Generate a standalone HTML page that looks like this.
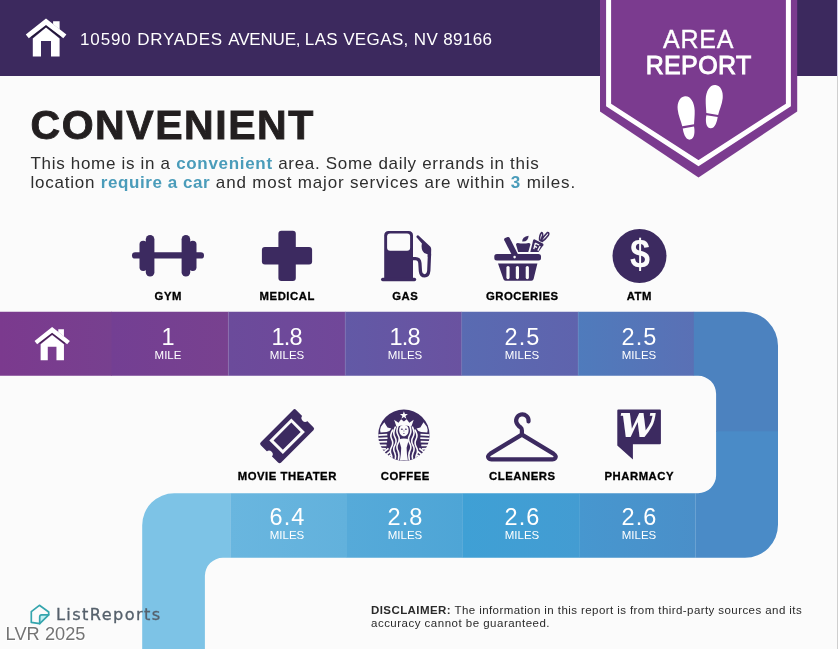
<!DOCTYPE html>
<html lang="en">
<head>
<meta charset="utf-8">
<title>Area Report</title>
<style>
html,body{margin:0;padding:0;}
body{width:838px;height:649px;position:relative;overflow:hidden;background:#fbfbfb;font-family:"Liberation Sans",sans-serif;color:#333;}
.abs{position:absolute;}
.t{position:absolute;white-space:nowrap;line-height:1;}
#bg{position:absolute;left:0;top:0;}
.addr{left:80px;top:30.7px;font-size:17px;color:#fff;letter-spacing:0.39px;}
.title{left:30.5px;top:105.2px;font-size:41px;font-weight:bold;color:#231f20;letter-spacing:1.55px;-webkit-text-stroke:0.9px #231f20;}
.para{left:30.5px;font-size:17px;color:#2e2e2e;}
.para b{color:#4a9cba;}
.lbl{font-size:11.3px;font-weight:bold;color:#000;transform:translateX(-50%);letter-spacing:0.55px;text-indent:0.55px;-webkit-text-stroke:0.3px #000;}
.num{font-size:23.5px;color:#fff;transform:translateX(-50%);letter-spacing:1.1px;text-indent:1.1px;}
.n1{letter-spacing:-0.8px;text-indent:-0.8px;}
.unit{font-size:11.5px;color:#fff;transform:translateX(-50%);letter-spacing:0;}
.rib{color:#fff;font-size:25px;transform:translateX(-50%);}
.disc{left:371px;font-size:11.5px;color:#2a2a2a;}
</style>
</head>
<body>
<svg id="bg" width="838" height="649" viewBox="0 0 838 649">
<defs>
<clipPath id="snake"><path d="M0,311.700 H744 A34,34 0 0 1 778,345.700 V524.800 A33,33 0 0 1 745,557.800 H222.900 A18,18 0 0 0 204.900,575.800 V649 H142.200 V525.200 A32,32 0 0 1 174.200,493.200 H698.100 A18,18 0 0 0 716.100,475.200 V393.800 A18,18 0 0 0 698.100,375.800 H0 Z"/></clipPath>
<linearGradient id="g0" x1="0" x2="1"><stop offset="0" stop-color="#7b3a8e"/><stop offset="1" stop-color="#77408f"/></linearGradient>
<linearGradient id="g1" x1="0" x2="1"><stop offset="0" stop-color="#733f93"/><stop offset="1" stop-color="#78418f"/></linearGradient>
<linearGradient id="g2" x1="0" x2="1"><stop offset="0" stop-color="#6b4b9b"/><stop offset="1" stop-color="#714799"/></linearGradient>
<linearGradient id="g3" x1="0" x2="1"><stop offset="0" stop-color="#6259a6"/><stop offset="1" stop-color="#6a52a0"/></linearGradient>
<linearGradient id="g4" x1="0" x2="1"><stop offset="0" stop-color="#596bb2"/><stop offset="1" stop-color="#5f63ad"/></linearGradient>
<linearGradient id="g5" x1="0" x2="1"><stop offset="0" stop-color="#4f7bbc"/><stop offset="1" stop-color="#5a70b5"/></linearGradient>
<linearGradient id="h1" x1="0" x2="1"><stop offset="0" stop-color="#69b6df"/><stop offset="1" stop-color="#62b1dc"/></linearGradient>
<linearGradient id="h2" x1="0" x2="1"><stop offset="0" stop-color="#56aad9"/><stop offset="1" stop-color="#4ea5d6"/></linearGradient>
<linearGradient id="h3" x1="0" x2="1"><stop offset="0" stop-color="#3fa0d5"/><stop offset="1" stop-color="#439cd2"/></linearGradient>
<linearGradient id="h4" x1="0" x2="1"><stop offset="0" stop-color="#4797cf"/><stop offset="1" stop-color="#4a8fc9"/></linearGradient>
</defs>
<!-- header -->
<rect x="0" y="0" width="838" height="76" fill="#3c295e"/>
<!-- snake path -->
<g clip-path="url(#snake)">
<rect x="0" y="311" width="112" height="66" fill="url(#g0)"/>
<rect x="111.500" y="311" width="117" height="66" fill="url(#g1)"/>
<rect x="228.300" y="311" width="117.200" height="66" fill="url(#g2)"/>
<rect x="345.200" y="311" width="116.700" height="66" fill="url(#g3)"/>
<rect x="461.600" y="311" width="116.800" height="66" fill="url(#g4)"/>
<rect x="578.100" y="311" width="116" height="66" fill="url(#g5)"/>
<rect x="693.800" y="311" width="90" height="121" fill="#4c82bf"/>
<rect x="695.600" y="431.300" width="90" height="130" fill="#4a8bc7"/>
<rect x="579.700" y="492" width="116" height="67" fill="url(#h4)"/>
<rect x="462.700" y="492" width="117.200" height="67" fill="url(#h3)"/>
<rect x="346.800" y="492" width="116.100" height="67" fill="url(#h2)"/>
<rect x="230.200" y="492" width="116.800" height="67" fill="url(#h1)"/>
<rect x="140" y="492" width="90.200" height="160" fill="#7dc3e6"/>
<g fill="#fff" fill-opacity="0.090">
<rect x="227.800" y="311" width="1" height="66"/><rect x="344.700" y="311" width="1" height="66"/><rect x="461.100" y="311" width="1" height="66"/><rect x="577.600" y="311" width="1" height="66"/>
</g>
</g>
<!-- ribbon -->
<g id="ribbon">
<path d="M600,0 H797.200 V111.500 L698.500,177.600 L600,111.500 Z" fill="#7b3b8f"/>
<path d="M608.600,0 V105 L698.500,163.200 L788.400,105 V0" fill="none" stroke="#fff" stroke-width="5"/>
</g>

<!-- house icons -->
<g id="house1" fill="#fff">
<path d="M46,18.500 L66.400,34.600 L63.300,38.300 L46,25 L28.800,38.300 L25.800,34.600 Z"/>
<path d="M53.100,21.200 H59.600 V29.500 L53.100,24.300 Z"/>
<path d="M46,27.600 L59.600,38.400 V56.600 H51 V41.100 H41 V56.600 H32.800 V38.400 Z"/>
<path d="M31.500,37.400 L46,26.300 L60.800,37.400" fill="none" stroke="#000" stroke-opacity="0.450" stroke-width="1.400"/>
</g>
<g fill="#fff" transform="translate(52.200,343.600) scale(0.870) translate(-46.100,-37.600)">
<path d="M46,18.500 L66.400,34.600 L63.300,38.300 L46,25 L28.800,38.300 L25.800,34.600 Z"/>
<path d="M53.100,21.200 H59.600 V29.500 L53.100,24.300 Z"/>
<path d="M46,27.600 L59.600,38.400 V56.600 H51 V41.100 H41 V56.600 H32.800 V38.400 Z"/>
<path d="M31.500,37.400 L46,26.300 L60.800,37.400" fill="none" stroke="#000" stroke-opacity="0.450" stroke-width="1.400"/>
</g>
<!-- footprints -->
<g fill="#fff">
<g transform="translate(686.800,118) rotate(-4)">
<path d="M-0.300,-21.800 C5.500,-21.800 8.600,-15 8.400,-7 C8.200,-2 7.200,3 6.800,6.800 L-5.100,7.900 C-6,3 -8.300,-3 -8.500,-9 C-8.700,-16 -5.500,-21.800 -0.300,-21.800 Z"/>
<path d="M-4.800,10.100 L6.600,9 C7.200,13 6.800,21.300 1.800,21.800 C-3,22 -4.500,14 -4.800,9.900 Z"/>
</g>
<g transform="translate(713.600,106.700) rotate(4)">
<path d="M0.300,-21.800 C-5.500,-21.800 -8.600,-15 -8.400,-7 C-8.200,-2 -7.200,3 -6.800,6.800 L5.100,7.900 C6,3 8.300,-3 8.500,-9 C8.700,-16 5.500,-21.800 0.300,-21.800 Z"/>
<path d="M4.800,10.100 L-6.600,9 C-7.200,13 -6.800,21.300 -1.800,21.800 C3,22 4.500,14 4.800,9.900 Z"/>
</g>
</g>
<!-- gym -->
<g fill="#3c2a60">
<rect x="132" y="252.200" width="72" height="6.400" rx="3.200"/>
<rect x="145.800" y="235" width="8.600" height="41.600" rx="4.300"/>
<rect x="181.600" y="235" width="8.600" height="41.600" rx="4.300"/>
<rect x="139.500" y="240.800" width="7.500" height="30.200" rx="3.700"/>
<rect x="189" y="240.800" width="7.500" height="30.200" rx="3.700"/>
</g>
<!-- medical -->
<g fill="#3c2a60">
<rect x="278.400" y="230.800" width="17.400" height="50.200" rx="3"/>
<rect x="261.900" y="247" width="50.200" height="17.600" rx="3"/>
</g>
<!-- gas -->
<g fill="#3c2a60">
<path d="M384.200,278.500 V235.400 Q384.200,230.900 388.700,230.900 H408.500 Q413,230.900 413,235.400 V278.500 Z"/>
<rect x="381" y="277.800" width="35.200" height="3.500" rx="1.700"/>
<rect x="387.100" y="233.500" width="23" height="17.300" rx="3" fill="#fbfbfb"/>
<path d="M412.500,258.600 H415.500 Q419.600,258.600 419.900,263.200 L420.400,271 Q420.900,275.800 424.700,275.800 Q428.300,275.800 428.800,270.500 L429.500,254" fill="none" stroke="#3c2a60" stroke-width="3.300" stroke-linecap="round"/>
<path d="M416.300,236.900 Q416.600,234.900 418.500,235.400 L430.200,246.400 Q431.300,247.500 431.200,249.500 L431,257 H427.800 L427.600,254 Q424.500,254.500 422.600,251 Q421,248 421.900,243.600 Z"/>
</g>
<!-- atm -->
<circle cx="639.500" cy="256" r="27" fill="#3c2a60"/>

<!-- groceries -->
<g fill="#3c2a60">
<rect x="494.300" y="254" width="46.700" height="6.400" rx="2.500"/>
<path d="M498,263.400 H537.400 L533.600,279 Q533.200,280.800 531.400,280.800 H505.600 Q503.800,280.800 503.400,279 Z"/>
<rect x="506.400" y="266" width="3.200" height="13.200" rx="1.600" fill="#fbfbfb"/>
<rect x="515.800" y="266" width="3.200" height="13.200" rx="1.600" fill="#fbfbfb"/>
<rect x="525.700" y="266" width="3.200" height="13.200" rx="1.600" fill="#fbfbfb"/>
<path d="M504.300,240.200 Q503.600,238.600 505.200,238 L507.600,237.100 Q509,236.700 509.700,238 L518.600,255.500 L513,257.300 Z"/>
<circle cx="514.600" cy="257.100" r="1.300" fill="#fbfbfb"/>
<path d="M516,244.600 Q516,242.800 517.800,242.900 Q523.200,244.300 528.700,242.900 Q530.500,242.800 530.400,244.600 L528.300,251.900 H518.200 Z"/>
<path d="M522.200,241.600 Q522,237 528.600,235.800 Q528.400,242 522.200,241.600 Z"/>
<path d="M533.200,239.900 Q533.800,239 534.800,239.400 L542.900,243.600 Q543.900,244.200 543.300,245.200 L538.500,251.900 H530.300 Z"/>
<path d="M535.200,243.200 L539.200,245 M535.400,243.200 L533.800,249.200 M534.600,246.400 L537,247.400 M540.200,246 L537.800,250.600" stroke="#fbfbfb" stroke-width="1.300" fill="none"/>
<path d="M539.600,240.600 Q539.200,235 541.600,232.600 Q543.200,232.800 542.400,236 Q541.600,238.600 540.800,241 Q543.600,236.200 547.600,232.400 Q549.600,232.400 548.400,235.200 Q545.600,239.200 541.600,241.800" fill="none" stroke="#3c2a60" stroke-width="1.500" stroke-linejoin="round"/>
</g>
<!-- movie ticket -->
<g transform="translate(287.100,436.200) rotate(-45)">
<rect x="-25" y="-14.400" width="50" height="28.800" rx="2.200" fill="#3c2a60"/>
<circle cx="-25.500" cy="0" r="3.600" fill="#fbfbfb"/>
<circle cx="25.500" cy="0" r="3.600" fill="#fbfbfb"/>
<rect x="-14.100" y="-8.100" width="28.200" height="16.200" fill="none" stroke="#fbfbfb" stroke-width="3"/>
</g>
<!-- cleaners hanger -->
<g fill="none" stroke="#3c2a60" stroke-linecap="round" stroke-linejoin="round">
<path d="M528.500,421.400 A6.200,6.200 0 1 0 517.200,424 Q518.800,426.400 520.600,427.400 Q521.900,428.400 521.900,430.400 V434.400" stroke-width="4.200"/>
<path d="M521.900,434.600 L553.400,453.600 Q557,456.200 555,458.400 Q554.200,459.400 552.400,459.400 H491.400 Q489.600,459.400 488.800,458.400 Q486.800,456.200 490.400,453.600 Z" stroke-width="4.200"/>
</g>
<!-- pharmacy -->
<g fill="#3c2a60">
<path d="M618.300,409.500 H659.900 Q660.900,409.500 660.900,410.500 V443.200 Q660.900,444.200 659.900,444.200 H632.900 V459.400 L617.300,445.400 V410.500 Q617.300,409.500 618.300,409.500 Z"/>
</g>
<!-- listreports logo -->
<g fill="none" stroke-linejoin="round" stroke-linecap="round">
<path d="M41,614.800 H48.700 L39.700,623.600 V617 Q39.700,614.800 41,614.800 Z" fill="#c4f0f3" stroke="none"/>
<path d="M39.400,605.300 L48.700,612 V614.800 L39.700,623.600 L31.300,622.400 V611.600 Z" stroke="#35a5ad" stroke-width="1.700" fill="none"/>
<path d="M48.700,614.800 H41.600 Q39.700,614.800 39.700,617 V623.600" stroke="#35a5ad" stroke-width="1.700"/>
</g>
<!-- coffee siren -->
<g transform="translate(403.900,435.200)">
<circle cx="0" cy="0" r="25.700" fill="#3c2a60"/>
<g fill="#fbfbfb" stroke="none">
<path d="M0.000,-24.000 L1.000,-21.200 L4.000,-21.100 L1.600,-19.300 L2.500,-16.400 L0.000,-18.100 L-2.500,-16.400 L-1.600,-19.300 L-4.000,-21.100 L-1.000,-21.200 Z"/>
<path d="M-9.800,-15.400 L-5.400,-12.400 L-2.800,-16 L0,-13.600 L2.800,-16 L5.400,-12.400 L9.800,-15.400 L7.400,-8.400 Q0,-11.400 -7.400,-8.400 Z"/>
<path d="M0,-10.200 C3.400,-10.200 4.700,-8 4.700,-5 C4.700,-1.400 2.600,1 0,1 C-2.600,1 -4.700,-1.400 -4.700,-5 C-4.700,-8 -3.400,-10.200 0,-10.200 Z"/>
<path d="M-5.400,4.600 Q0,2.200 5.400,4.600 Q3.600,8 2.700,12.600 Q2.700,18 4,25.300 L-4,25.300 Q-2.700,18 -2.700,12.600 Q-3.600,8 -5.400,4.600 Z"/>
<path d="M-19.600,-13 L-16.400,-7.600 L-12.600,-6.800 Q-13.800,-4 -17.200,-3.200 L-23.400,-2.600 Q-24.200,-5.600 -23,-8.400 Z"/>
<path d="M19.600,-13 L16.400,-7.600 L12.600,-6.800 Q13.800,-4 17.200,-3.200 L23.400,-2.600 Q24.200,-5.600 23,-8.400 Z"/>
</g>
<g fill="none" stroke="#fbfbfb" stroke-width="1.600" stroke-linecap="round">
<path d="M-5.800,-9.400 Q-8.200,-4 -5.800,0 Q-3.400,4 -5.800,8 Q-8.200,12 -5.800,16 Q-4.400,19 -5.400,24.400"/>
<path d="M-8.600,-8 Q-11.400,-2 -9,2 Q-6.600,6 -9,10 Q-11.400,14 -9,18 Q-7.800,21 -8.600,23.400"/>
<path d="M-11.200,-5 Q-14.400,0 -12.200,4 Q-10,8 -12.400,12 Q-14.800,16 -12.400,20 L-12,22"/>
<path d="M5.800,-9.400 Q8.200,-4 5.800,0 Q3.400,4 5.800,8 Q8.200,12 5.800,16 Q4.400,19 5.400,24.400"/>
<path d="M8.600,-8 Q11.400,-2 9,2 Q6.600,6 9,10 Q11.400,14 9,18 Q7.800,21 8.600,23.400"/>
<path d="M11.200,-5 Q14.400,0 12.200,4 Q10,8 12.400,12 Q14.800,16 12.400,20 L12,22"/>
</g>
<g fill="none" stroke="#fbfbfb" stroke-width="1.700">
<path d="M-25.600,0 L-16.600,-0.600 M-25.800,3.300 L-16.400,2.900 M-25.600,6.700 L-16.800,6.500 M-24.800,10.100 L-17.400,10.100 M-23.600,13.500 L-18,13.700"/>
<path d="M25.600,0 L16.600,-0.600 M25.800,3.300 L16.400,2.900 M25.600,6.700 L16.800,6.500 M24.800,10.100 L17.400,10.100 M23.600,13.500 L18,13.700"/>
<path d="M-20.400,17.200 L-15.400,13.200 M-18.400,20 L-13.800,16.200 M-16,22.200 L-13.200,19.800" stroke-width="1.800"/>
<path d="M20.400,17.200 L15.400,13.200 M18.400,20 L13.800,16.200 M16,22.200 L13.200,19.800" stroke-width="1.800"/>
</g>
<g fill="#3c2a60"><ellipse cx="-2" cy="-6" rx="1" ry="0.600"/><ellipse cx="2" cy="-6" rx="1" ry="0.600"/><rect x="-0.600" y="-2" width="1.200" height="0.800"/><path d="M-0.300,-5.500 L0.300,-5.500 L0.500,-3.400 L-0.500,-3.400 Z" fill-opacity="0.500"/></g>
</g>
<!-- right edge strip -->
<rect x="837" y="0" width="1" height="649" fill="#cfcfcf"/>
<rect x="837" y="0" width="1" height="76" fill="#cfc8e6"/>
</svg>

<div class="t addr"><span style="letter-spacing:0.87px">10590 </span><span style="letter-spacing:0.72px">DRYADES </span><span style="letter-spacing:-0.2px">AVENUE, </span><span style="letter-spacing:0.37px">LAS VEGAS, NV 89166</span></div>
<div class="t title">CONVENIENT</div>
<div class="t para" style="top:155.4px;letter-spacing:0.69px">This home is in a <b>convenient</b> area. Some daily errands in this</div>
<div class="t para" style="top:173.5px;letter-spacing:0.765px">location <b style="letter-spacing:0.58px">require a car</b><span style="letter-spacing:0.815px"> and most major services are within <b>3</b> miles.</span></div>

<div class="t rib" style="left:698.6px;top:27px;letter-spacing:0.8px;-webkit-text-stroke:0.35px #fff">AREA</div>
<div class="t rib" style="left:698.6px;top:52.5px;letter-spacing:0.35px;-webkit-text-stroke:0.9px #fff">REPORT</div>

<div class="t" id="dollar" style="left:639.5px;top:234.3px;font-size:40.5px;font-weight:bold;color:#fbfbfb;transform:translateX(-50%) scaleX(0.89);">$</div>
<div class="t" id="wlogo" style="left:636.6px;top:398px;font-family:'DejaVu Serif','Liberation Serif',serif;font-style:italic;font-weight:bold;font-size:46.5px;color:#fbfbfb;transform:translateX(-50%) scaleX(0.875);">w</div>
<div class="t lbl" style="left:168px;top:291px">GYM</div>
<div class="t lbl" style="left:287px;top:291px">MEDICAL</div>
<div class="t lbl" style="left:405px;top:291px">GAS</div>
<div class="t lbl" style="left:522px;top:291px">GROCERIES</div>
<div class="t lbl" style="left:639px;top:291px">ATM</div>

<div class="t num n1" style="left:168px;top:325.7px">1</div><div class="t unit" style="left:168px;top:350px">MILE</div>
<div class="t num n1" style="left:287px;top:325.7px">1.8</div><div class="t unit" style="left:287px;top:350px">MILES</div>
<div class="t num n1" style="left:405px;top:325.7px">1.8</div><div class="t unit" style="left:405px;top:350px">MILES</div>
<div class="t num" style="left:522px;top:325.7px">2.5</div><div class="t unit" style="left:522px;top:350px">MILES</div>
<div class="t num" style="left:639px;top:325.7px">2.5</div><div class="t unit" style="left:639px;top:350px">MILES</div>

<div class="t lbl" style="left:287px;top:471.3px">MOVIE THEATER</div>
<div class="t lbl" style="left:405px;top:471.3px">COFFEE</div>
<div class="t lbl" style="left:522px;top:471.3px">CLEANERS</div>
<div class="t lbl" style="left:639px;top:471.3px">PHARMACY</div>

<div class="t num" style="left:287px;top:505.9px">6.4</div><div class="t unit" style="left:287px;top:530.4px">MILES</div>
<div class="t num" style="left:405px;top:505.9px">2.8</div><div class="t unit" style="left:405px;top:530.4px">MILES</div>
<div class="t num" style="left:522px;top:505.9px">2.6</div><div class="t unit" style="left:522px;top:530.4px">MILES</div>
<div class="t num" style="left:639px;top:505.9px">2.6</div><div class="t unit" style="left:639px;top:530.4px">MILES</div>

<div class="t disc" style="top:604.9px;letter-spacing:0.425px"><b>DISCLAIMER:</b> The information in this report is from third-party sources and its</div>
<div class="t disc" style="top:617.9px;letter-spacing:0.49px">accuracy cannot be guaranteed.</div>

<div class="t" id="lr" style="left:55.9px;top:607.3px;-webkit-text-stroke:0.3px #55606b;font-family:'DejaVu Sans','Liberation Sans',sans-serif;font-size:16.2px;color:#55606b;letter-spacing:1.4px;">ListReports</div>
<div class="t" id="lvr" style="left:5.6px;top:624.9px;font-size:18.2px;color:#747474;letter-spacing:0.05px;text-shadow:0 0 1px #fff,1px 1px 0 #fff,-1px -1px 0 #fff;">LVR 2025</div>
</body>
</html>
